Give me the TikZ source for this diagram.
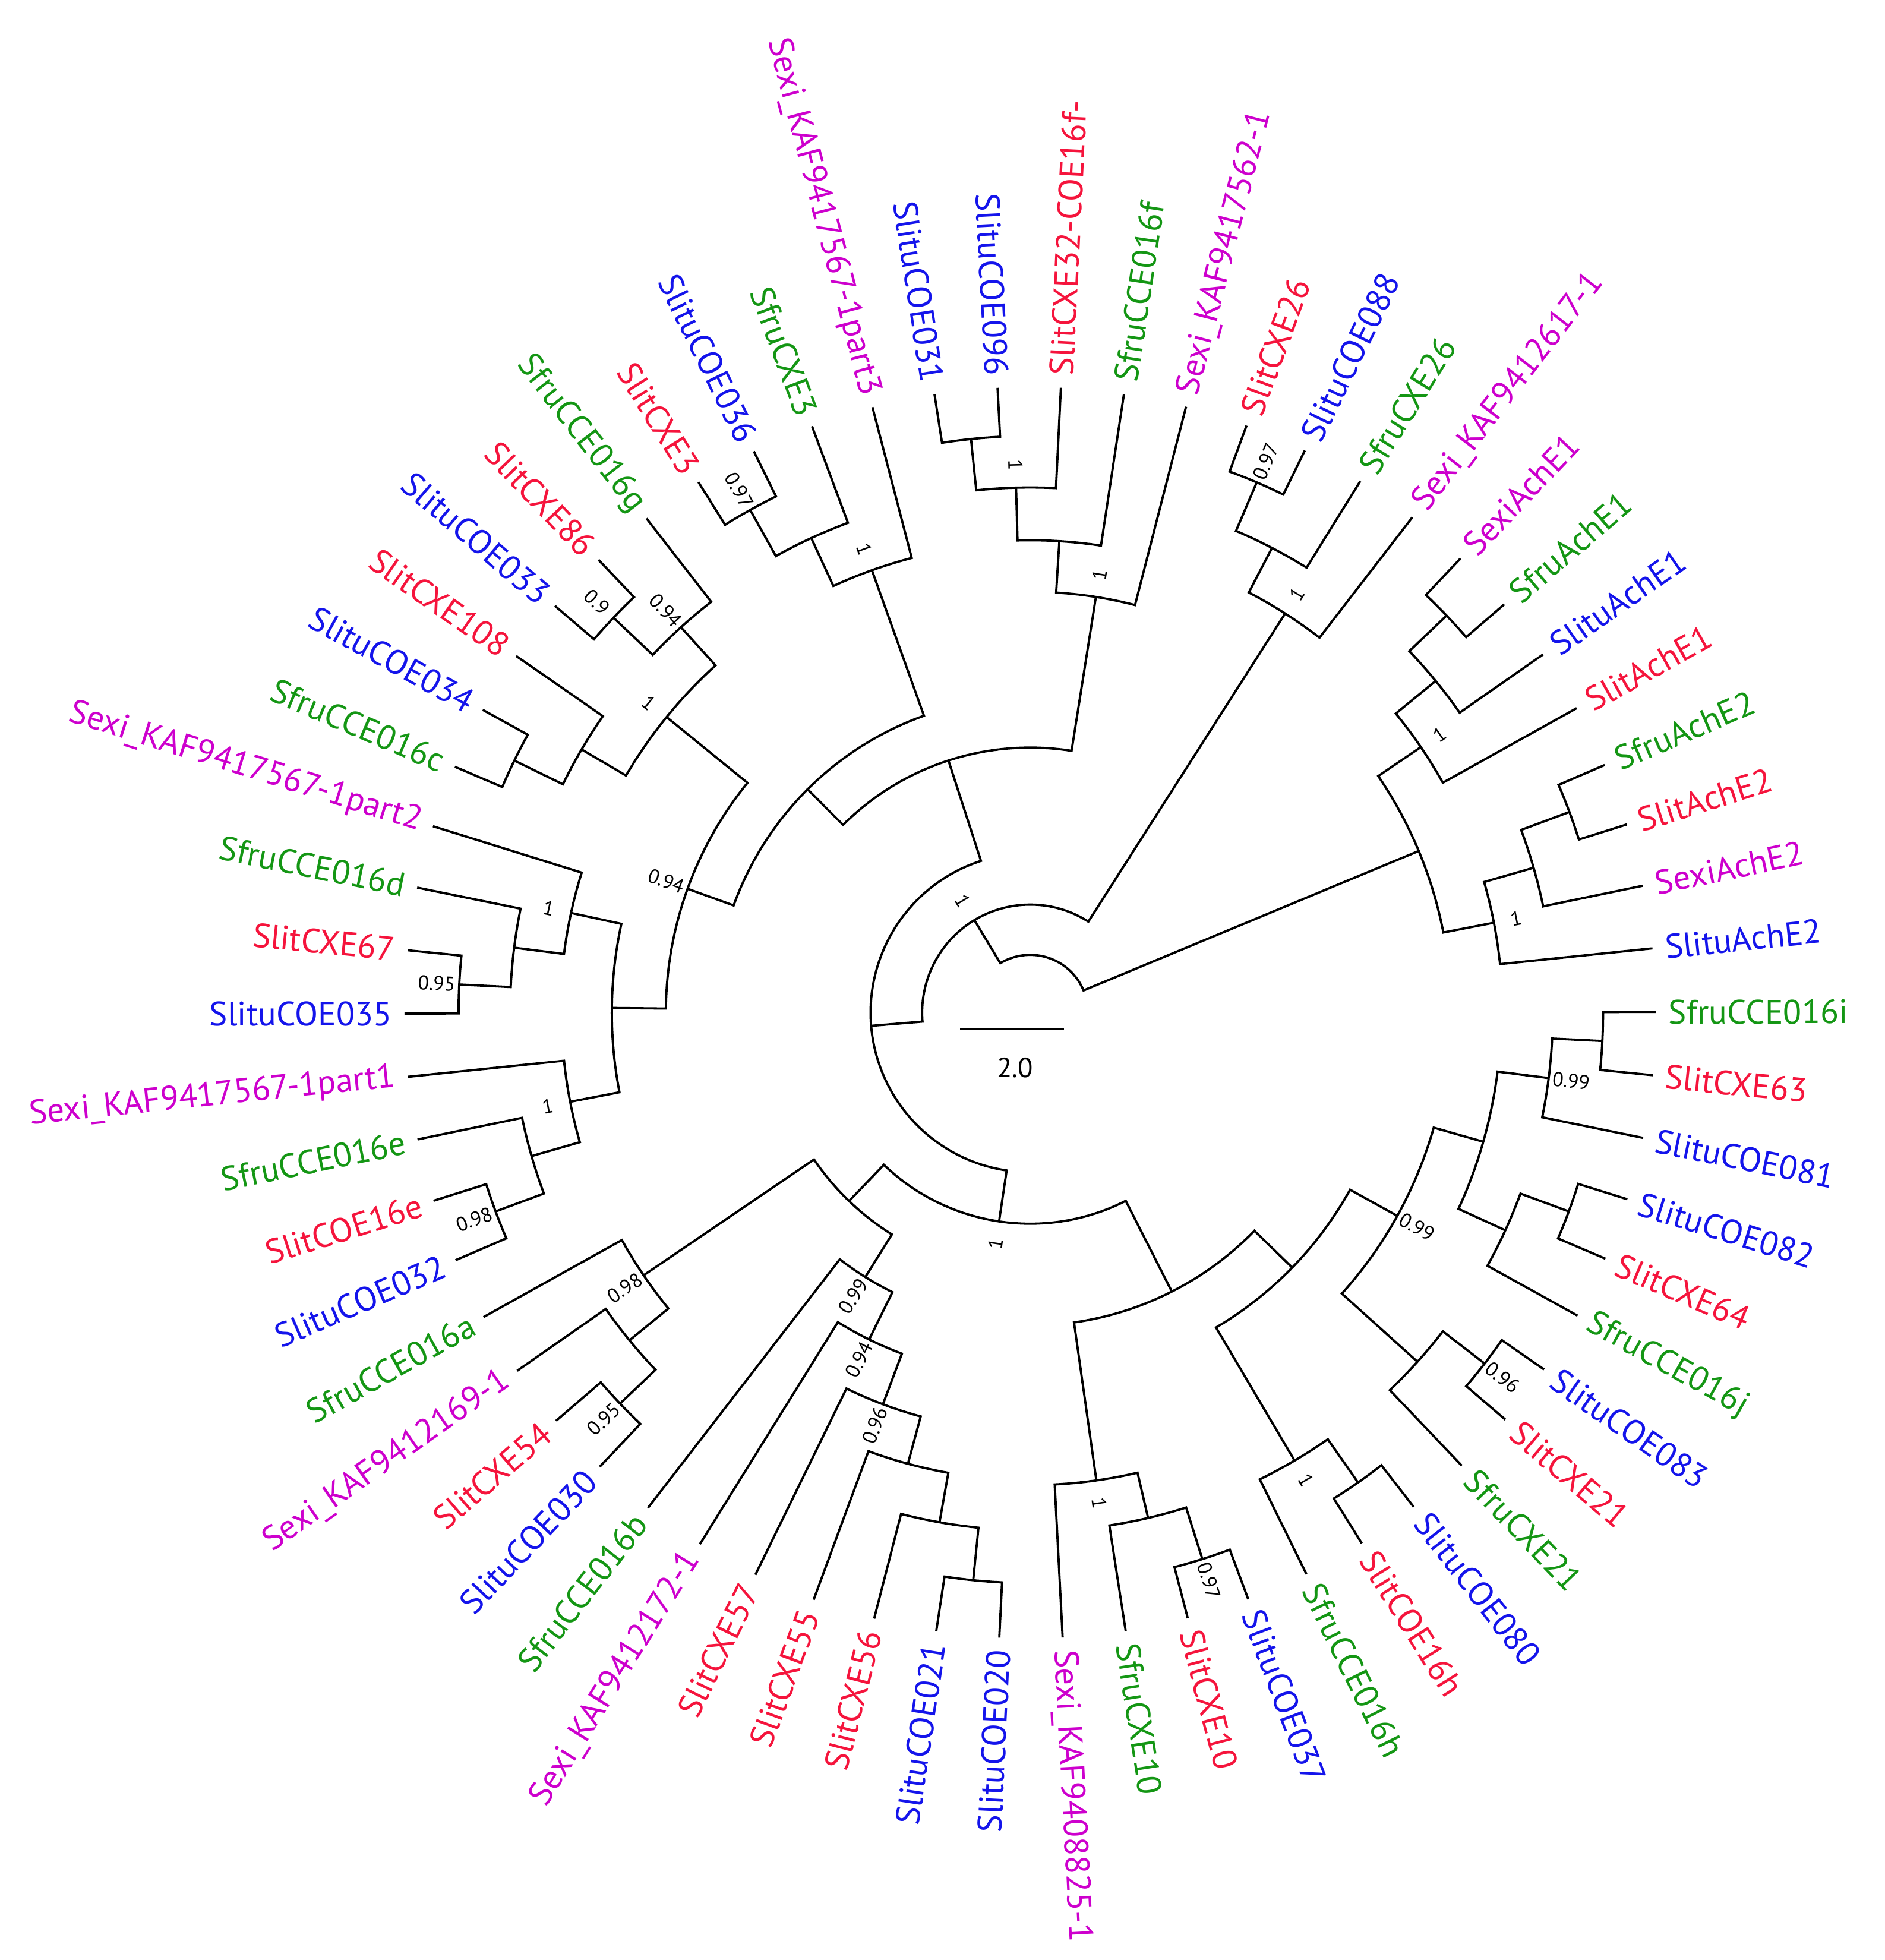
\documentclass[tikz,border=0pt]{standalone}
\usepackage{fontspec}
\setmainfont{PT Sans}
\definecolor{cg}{RGB}{20,150,20}
\definecolor{cr}{RGB}{245,20,60}
\definecolor{cb}{RGB}{20,20,235}
\definecolor{cm}{RGB}{205,0,205}
\tikzset{
  br/.style={line width=1.8pt,line join=miter,black},
  lab/.style={inner sep=0pt,font=\fontsize{27}{31}\selectfont},
  sup/.style={inner sep=0pt,font=\fontsize{16}{18}\selectfont,black},
}
\def\setrot#1{\def\rot{#1}\def\anc{west}\ifdim#1pt>90pt\ifdim#1pt<270pt\pgfmathsetmacro\rot{#1+180}\def\anc{east}\fi\fi}
\newcommand\lf[3]{\pgfmathsetmacro\tmpa{5.9+5.806*#1}%
  \expandafter\xdef\csname nA@l#1\endcsname{\tmpa}%
  \expandafter\xdef\csname nR@l#1\endcsname{498}%
  \setrot{\tmpa}%
  \node[lab,text=#2,rotate=\rot,anchor=\anc] (n#1) at (\tmpa:508pt) {#3};}
\newcommand\nd[5]{%
  \edef\aa{\csname nA@#3\endcsname}\edef\ab{\csname nA@#4\endcsname}%
  \edef\ra{\csname nR@#3\endcsname}\edef\rb{\csname nR@#4\endcsname}%
  \draw[br] (\aa:\ra pt) -- (\aa:#2pt) arc[start angle=\aa,end angle=\ab,radius=#2pt] -- (\ab:\rb pt);%
  \pgfmathsetmacro\am{(\aa+\ab)/2}%
  \expandafter\xdef\csname nA@#1\endcsname{\am}%
  \expandafter\xdef\csname nR@#1\endcsname{#2}%
  \if\relax\detokenize{#5}\relax\else
    \setrot{\am}\pgfmathsetmacro\rs{#2+18}%
    \node[sup,rotate=\rot] (S#1) at (\am:\rs pt) {#5};\fi}
\begin{document}
\begin{tikzpicture}
\useasboundingbox (-820pt,-754pt) rectangle (680pt,806pt);
\lf{0}{cb}{SlituAchE2}
\lf{1}{cm}{SexiAchE2}
\lf{2}{cr}{SlitAchE2}
\lf{3}{cg}{SfruAchE2}
\lf{4}{cr}{SlitAchE1}
\lf{5}{cb}{SlituAchE1}
\lf{6}{cg}{SfruAchE1}
\lf{7}{cm}{SexiAchE1}
\lf{8}{cm}{Sexi\_KAF9412617-1}
\lf{9}{cg}{SfruCXE26}
\lf{10}{cb}{SlituCOE088}
\lf{11}{cr}{SlitCXE26}
\lf{12}{cm}{Sexi\_KAF9417562-1}
\lf{13}{cg}{SfruCCE016f}
\lf{14}{cr}{SlitCXE32-COE16f-}
\lf{15}{cb}{SlituCOE096}
\lf{16}{cb}{SlituCOE031}
\lf{17}{cm}{Sexi\_KAF9417567-1part3}
\lf{18}{cg}{SfruCXE3}
\lf{19}{cb}{SlituCOE036}
\lf{20}{cr}{SlitCXE3}
\lf{21}{cg}{SfruCCE016g}
\lf{22}{cr}{SlitCXE86}
\lf{23}{cb}{SlituCOE033}
\lf{24}{cr}{SlitCXE108}
\lf{25}{cb}{SlituCOE034}
\lf{26}{cg}{SfruCCE016c}
\lf{27}{cm}{Sexi\_KAF9417567-1part2}
\lf{28}{cg}{SfruCCE016d}
\lf{29}{cr}{SlitCXE67}
\lf{30}{cb}{SlituCOE035}
\lf{31}{cm}{Sexi\_KAF9417567-1part1}
\lf{32}{cg}{SfruCCE016e}
\lf{33}{cr}{SlitCOE16e}
\lf{34}{cb}{SlituCOE032}
\lf{35}{cg}{SfruCCE016a}
\lf{36}{cm}{Sexi\_KAF9412169-1}
\lf{37}{cr}{SlitCXE54}
\lf{38}{cb}{SlituCOE030}
\lf{39}{cg}{SfruCCE016b}
\lf{40}{cm}{Sexi\_KAF9412172-1}
\lf{41}{cr}{SlitCXE57}
\lf{42}{cr}{SlitCXE55}
\lf{43}{cr}{SlitCXE56}
\lf{44}{cb}{SlituCOE021}
\lf{45}{cb}{SlituCOE020}
\lf{46}{cm}{Sexi\_KAF9408825-1}
\lf{47}{cg}{SfruCXE10}
\lf{48}{cr}{SlitCXE10}
\lf{49}{cb}{SlituCOE037}
\lf{50}{cg}{SfruCCE016h}
\lf{51}{cr}{SlitCOE16h}
\lf{52}{cb}{SlituCOE080}
\lf{53}{cg}{SfruCXE21}
\lf{54}{cr}{SlitCXE21}
\lf{55}{cb}{SlituCOE083}
\lf{56}{cg}{SfruCCE016j}
\lf{57}{cr}{SlitCXE64}
\lf{58}{cb}{SlituCOE082}
\lf{59}{cb}{SlituCOE081}
\lf{60}{cr}{SlitCXE63}
\lf{61}{cg}{SfruCCE016i}
% AchE
\nd{a1}{458}{l7}{l6}{}
\nd{a2}{417}{a1}{l5}{}
\nd{a3}{376}{a2}{l4}{1}
\nd{b1}{458}{l3}{l2}{}
\nd{b2}{417}{b1}{l1}{}
\nd{b3}{376}{b2}{l0}{1}
\nd{ach}{335}{a3}{b3}{}
% top right
\nd{t1}{459}{l11}{l10}{0.97}
\nd{t2}{417}{t1}{l9}{}
\nd{t3}{377}{t2}{l8}{1}
% top
\nd{u1}{459}{l16}{l15}{}
\nd{u2}{418}{u1}{l14}{1}
\nd{u3}{376}{u2}{l13}{}
\nd{u4}{335}{u3}{l12}{1}
\nd{v1}{458}{l20}{l19}{0.97}
\nd{v2}{416}{v1}{l18}{}
\nd{v3}{374}{v2}{l17}{1}
\nd{w1}{457}{l22}{l23}{0.9}
\nd{w2}{414}{w1}{l21}{0.94}
\nd{w3}{457}{l25}{l26}{}
\nd{w4}{414}{l24}{w3}{}
\nd{w5}{373}{w2}{w4}{1}
\nd{p1}{455}{l29}{l30}{0.95}
\nd{p2}{414}{l28}{p1}{}
\nd{p3}{374}{l27}{p2}{1}
\nd{q1}{454}{l33}{l34}{0.98}
\nd{q2}{413}{l32}{q1}{}
\nd{q3}{373}{l31}{q2}{1}
\nd{pq}{333}{p3}{q3}{}
\nd{x1}{290}{w5}{pq}{0.94}
\nd{x2}{251}{v3}{x1}{}
\nd{x3}{211}{u4}{x2}{}
% bottom left
\nd{y1}{451}{l37}{l38}{0.95}
\nd{y2}{412}{l36}{y1}{}
\nd{y3}{372}{l35}{y2}{0.98}
\nd{z1}{454}{l44}{l45}{}
\nd{z2}{412}{l43}{z1}{}
\nd{z3}{372}{l42}{z2}{}
\nd{z4}{333}{l41}{z3}{0.96}
\nd{z5}{290}{l40}{z4}{0.94}
\nd{z6}{248}{l39}{z5}{0.99}
\nd{bl}{208}{y3}{z6}{}
% bottom right
\nd{s1}{456}{l48}{l49}{0.97}
\nd{s2}{413}{l47}{s1}{}
\nd{s3}{376}{l46}{s2}{1}
\nd{h1}{456}{l51}{l52}{}
\nd{h2}{414}{l50}{h1}{1}
\nd{k1}{457}{l54}{l55}{0.96}
\nd{k2}{415}{k1}{l53}{}
\nd{m1}{456}{l60}{l61}{}
\nd{m2}{416}{m1}{l59}{0.99}
\nd{m3}{457}{l58}{l57}{}
\nd{m4}{416}{m3}{l56}{}
\nd{m5}{375}{m2}{m4}{}
\nd{m6}{334}{m5}{k2}{0.99}
\nd{m7}{291}{m6}{h2}{}
\nd{brr}{249}{s3}{m7}{}
% deep
\nd{bot}{168}{bl}{brr}{1}
\nd{big}{127}{x3}{bot}{}
\nd{n86}{86}{t3}{big}{1}
\nd{root}{46}{ach}{n86}{}
% scale bar
\coordinate (sb1) at (-56pt,-13pt);
\coordinate (sb2) at (27pt,-13pt);
\draw[br] (sb1) -- (sb2);
\node[inner sep=0pt,font=\fontsize{22}{26}\selectfont] (sbl) at (-12pt,-44pt) {2.0};
\end{tikzpicture}
\end{document}
